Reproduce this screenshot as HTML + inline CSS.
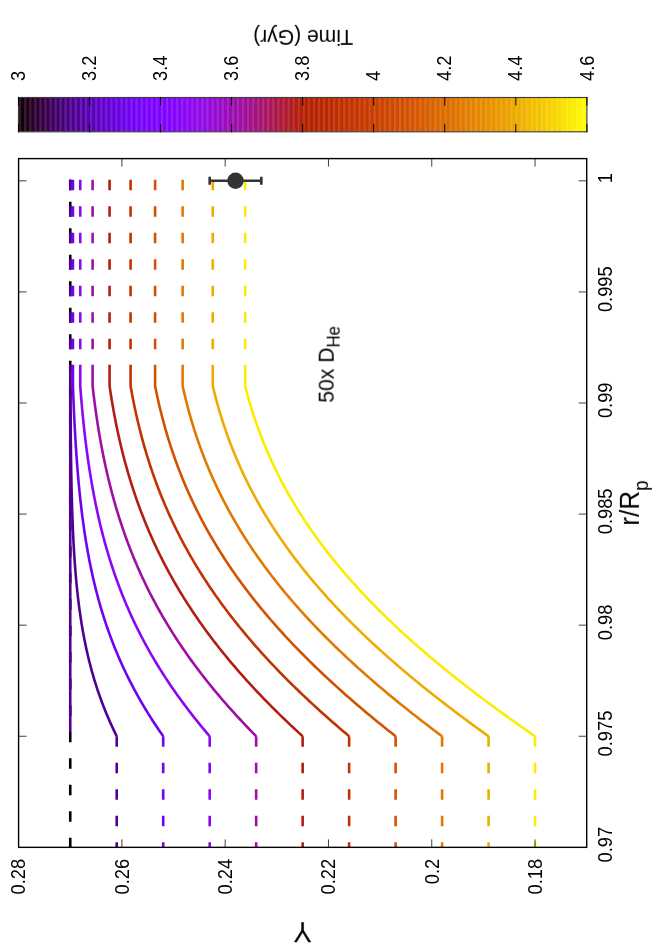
<!DOCTYPE html>
<html><head><meta charset="utf-8"><title>plot</title><style>html,body{margin:0;padding:0;background:#fff}svg{display:block}</style></head><body>
<svg width="664" height="949" viewBox="0 0 664 949" font-family="Liberation Sans, sans-serif" fill="#000">
<rect width="664" height="949" fill="#fff"/>
<clipPath id="cb"><rect x="18.5" y="97.5" width="568.40" height="34.30"/></clipPath>
<g clip-path="url(#cb)">
<rect x="18.50" y="97.5" width="5.67" height="34.30" fill="#110007"/>
<rect x="23.57" y="97.5" width="5.67" height="34.30" fill="#1e0015"/>
<rect x="28.65" y="97.5" width="5.67" height="34.30" fill="#260024"/>
<rect x="33.73" y="97.5" width="5.67" height="34.30" fill="#2d0032"/>
<rect x="38.80" y="97.5" width="5.67" height="34.30" fill="#330040"/>
<rect x="43.88" y="97.5" width="5.67" height="34.30" fill="#39004d"/>
<rect x="48.95" y="97.5" width="5.67" height="34.30" fill="#3d005b"/>
<rect x="54.02" y="97.5" width="5.67" height="34.30" fill="#420068"/>
<rect x="59.10" y="97.5" width="5.67" height="34.30" fill="#460075"/>
<rect x="64.18" y="97.5" width="5.67" height="34.30" fill="#4a0082"/>
<rect x="69.25" y="97.5" width="5.67" height="34.30" fill="#4e008e"/>
<rect x="74.33" y="97.5" width="5.67" height="34.30" fill="#520099"/>
<rect x="79.40" y="97.5" width="5.67" height="34.30" fill="#5500a5"/>
<rect x="84.48" y="97.5" width="5.67" height="34.30" fill="#5900af"/>
<rect x="89.55" y="97.5" width="5.67" height="34.30" fill="#5c01b9"/>
<rect x="94.62" y="97.5" width="5.67" height="34.30" fill="#5f01c3"/>
<rect x="99.70" y="97.5" width="5.67" height="34.30" fill="#6201cc"/>
<rect x="104.78" y="97.5" width="5.67" height="34.30" fill="#6501d4"/>
<rect x="109.85" y="97.5" width="5.67" height="34.30" fill="#6801dc"/>
<rect x="114.92" y="97.5" width="5.67" height="34.30" fill="#6a01e3"/>
<rect x="120.00" y="97.5" width="5.67" height="34.30" fill="#6d02e9"/>
<rect x="125.08" y="97.5" width="5.67" height="34.30" fill="#7002ee"/>
<rect x="130.15" y="97.5" width="5.67" height="34.30" fill="#7202f3"/>
<rect x="135.23" y="97.5" width="5.67" height="34.30" fill="#7502f7"/>
<rect x="140.30" y="97.5" width="5.67" height="34.30" fill="#7703fa"/>
<rect x="145.38" y="97.5" width="5.67" height="34.30" fill="#7a03fc"/>
<rect x="150.45" y="97.5" width="5.67" height="34.30" fill="#7c03fe"/>
<rect x="155.53" y="97.5" width="5.67" height="34.30" fill="#7e04ff"/>
<rect x="160.60" y="97.5" width="5.67" height="34.30" fill="#8104ff"/>
<rect x="165.68" y="97.5" width="5.67" height="34.30" fill="#8305fe"/>
<rect x="170.75" y="97.5" width="5.67" height="34.30" fill="#8505fc"/>
<rect x="175.83" y="97.5" width="5.67" height="34.30" fill="#8706fa"/>
<rect x="180.90" y="97.5" width="5.67" height="34.30" fill="#8906f7"/>
<rect x="185.97" y="97.5" width="5.67" height="34.30" fill="#8b07f3"/>
<rect x="191.05" y="97.5" width="5.67" height="34.30" fill="#8e07ee"/>
<rect x="196.12" y="97.5" width="5.67" height="34.30" fill="#9008e9"/>
<rect x="201.20" y="97.5" width="5.67" height="34.30" fill="#9209e3"/>
<rect x="206.28" y="97.5" width="5.67" height="34.30" fill="#940adc"/>
<rect x="211.35" y="97.5" width="5.67" height="34.30" fill="#960ad4"/>
<rect x="216.43" y="97.5" width="5.67" height="34.30" fill="#970bcc"/>
<rect x="221.50" y="97.5" width="5.67" height="34.30" fill="#990cc3"/>
<rect x="226.58" y="97.5" width="5.67" height="34.30" fill="#9b0db9"/>
<rect x="231.65" y="97.5" width="5.67" height="34.30" fill="#9d0eaf"/>
<rect x="236.72" y="97.5" width="5.67" height="34.30" fill="#9f0fa5"/>
<rect x="241.80" y="97.5" width="5.67" height="34.30" fill="#a11099"/>
<rect x="246.88" y="97.5" width="5.67" height="34.30" fill="#a3118e"/>
<rect x="251.95" y="97.5" width="5.67" height="34.30" fill="#a41282"/>
<rect x="257.02" y="97.5" width="5.67" height="34.30" fill="#a61375"/>
<rect x="262.10" y="97.5" width="5.67" height="34.30" fill="#a81568"/>
<rect x="267.18" y="97.5" width="5.67" height="34.30" fill="#aa165b"/>
<rect x="272.25" y="97.5" width="5.67" height="34.30" fill="#ab174d"/>
<rect x="277.32" y="97.5" width="5.67" height="34.30" fill="#ad1940"/>
<rect x="282.40" y="97.5" width="5.67" height="34.30" fill="#af1a32"/>
<rect x="287.48" y="97.5" width="5.67" height="34.30" fill="#b01c24"/>
<rect x="292.55" y="97.5" width="5.67" height="34.30" fill="#b21d15"/>
<rect x="297.62" y="97.5" width="5.67" height="34.30" fill="#b41f07"/>
<rect x="302.70" y="97.5" width="5.67" height="34.30" fill="#b52100"/>
<rect x="307.78" y="97.5" width="5.67" height="34.30" fill="#b72300"/>
<rect x="312.85" y="97.5" width="5.67" height="34.30" fill="#b82400"/>
<rect x="317.93" y="97.5" width="5.67" height="34.30" fill="#ba2600"/>
<rect x="323.00" y="97.5" width="5.67" height="34.30" fill="#bb2800"/>
<rect x="328.07" y="97.5" width="5.67" height="34.30" fill="#bd2a00"/>
<rect x="333.15" y="97.5" width="5.67" height="34.30" fill="#be2c00"/>
<rect x="338.23" y="97.5" width="5.67" height="34.30" fill="#c02e00"/>
<rect x="343.30" y="97.5" width="5.67" height="34.30" fill="#c23100"/>
<rect x="348.38" y="97.5" width="5.67" height="34.30" fill="#c33300"/>
<rect x="353.45" y="97.5" width="5.67" height="34.30" fill="#c43500"/>
<rect x="358.53" y="97.5" width="5.67" height="34.30" fill="#c63800"/>
<rect x="363.60" y="97.5" width="5.67" height="34.30" fill="#c73a00"/>
<rect x="368.68" y="97.5" width="5.67" height="34.30" fill="#c93d00"/>
<rect x="373.75" y="97.5" width="5.67" height="34.30" fill="#ca4000"/>
<rect x="378.82" y="97.5" width="5.67" height="34.30" fill="#cc4200"/>
<rect x="383.90" y="97.5" width="5.67" height="34.30" fill="#cd4500"/>
<rect x="388.98" y="97.5" width="5.67" height="34.30" fill="#cf4800"/>
<rect x="394.05" y="97.5" width="5.67" height="34.30" fill="#d04b00"/>
<rect x="399.12" y="97.5" width="5.67" height="34.30" fill="#d14e00"/>
<rect x="404.20" y="97.5" width="5.67" height="34.30" fill="#d35100"/>
<rect x="409.28" y="97.5" width="5.67" height="34.30" fill="#d45400"/>
<rect x="414.35" y="97.5" width="5.67" height="34.30" fill="#d55800"/>
<rect x="419.43" y="97.5" width="5.67" height="34.30" fill="#d75b00"/>
<rect x="424.50" y="97.5" width="5.67" height="34.30" fill="#d85f00"/>
<rect x="429.57" y="97.5" width="5.67" height="34.30" fill="#da6200"/>
<rect x="434.65" y="97.5" width="5.67" height="34.30" fill="#db6600"/>
<rect x="439.73" y="97.5" width="5.67" height="34.30" fill="#dc6a00"/>
<rect x="444.80" y="97.5" width="5.67" height="34.30" fill="#dd6e00"/>
<rect x="449.88" y="97.5" width="5.67" height="34.30" fill="#df7100"/>
<rect x="454.95" y="97.5" width="5.67" height="34.30" fill="#e07500"/>
<rect x="460.03" y="97.5" width="5.67" height="34.30" fill="#e17a00"/>
<rect x="465.10" y="97.5" width="5.67" height="34.30" fill="#e37e00"/>
<rect x="470.18" y="97.5" width="5.67" height="34.30" fill="#e48200"/>
<rect x="475.25" y="97.5" width="5.67" height="34.30" fill="#e58700"/>
<rect x="480.32" y="97.5" width="5.67" height="34.30" fill="#e68b00"/>
<rect x="485.40" y="97.5" width="5.67" height="34.30" fill="#e89000"/>
<rect x="490.48" y="97.5" width="5.67" height="34.30" fill="#e99400"/>
<rect x="495.55" y="97.5" width="5.67" height="34.30" fill="#ea9900"/>
<rect x="500.62" y="97.5" width="5.67" height="34.30" fill="#eb9e00"/>
<rect x="505.70" y="97.5" width="5.67" height="34.30" fill="#eda300"/>
<rect x="510.78" y="97.5" width="5.67" height="34.30" fill="#eea800"/>
<rect x="515.85" y="97.5" width="5.67" height="34.30" fill="#efad00"/>
<rect x="520.92" y="97.5" width="5.67" height="34.30" fill="#f0b300"/>
<rect x="526.00" y="97.5" width="5.67" height="34.30" fill="#f2b800"/>
<rect x="531.08" y="97.5" width="5.67" height="34.30" fill="#f3be00"/>
<rect x="536.15" y="97.5" width="5.67" height="34.30" fill="#f4c300"/>
<rect x="541.23" y="97.5" width="5.67" height="34.30" fill="#f5c900"/>
<rect x="546.30" y="97.5" width="5.67" height="34.30" fill="#f6cf00"/>
<rect x="551.38" y="97.5" width="5.67" height="34.30" fill="#f7d500"/>
<rect x="556.45" y="97.5" width="5.67" height="34.30" fill="#f9db00"/>
<rect x="561.52" y="97.5" width="5.67" height="34.30" fill="#fae100"/>
<rect x="566.60" y="97.5" width="5.67" height="34.30" fill="#fbe800"/>
<rect x="571.68" y="97.5" width="5.67" height="34.30" fill="#fcee00"/>
<rect x="576.75" y="97.5" width="5.67" height="34.30" fill="#fdf500"/>
<rect x="581.83" y="97.5" width="5.67" height="34.30" fill="#fefc00"/>
</g>
<rect x="19.20" y="97.5" width="2" height="34.30" fill="#fff" opacity="0.12"/>
<rect x="24.26" y="97.5" width="2" height="34.30" fill="#fff" opacity="0.12"/>
<rect x="29.33" y="97.5" width="2" height="34.30" fill="#fff" opacity="0.12"/>
<rect x="34.39" y="97.5" width="2" height="34.30" fill="#fff" opacity="0.12"/>
<rect x="39.46" y="97.5" width="2" height="34.30" fill="#fff" opacity="0.12"/>
<rect x="44.52" y="97.5" width="2" height="34.30" fill="#fff" opacity="0.12"/>
<rect x="49.58" y="97.5" width="2" height="34.30" fill="#fff" opacity="0.12"/>
<rect x="54.65" y="97.5" width="2" height="34.30" fill="#fff" opacity="0.12"/>
<rect x="59.71" y="97.5" width="2" height="34.30" fill="#fff" opacity="0.12"/>
<rect x="64.78" y="97.5" width="2" height="34.30" fill="#fff" opacity="0.12"/>
<rect x="69.84" y="97.5" width="2" height="34.30" fill="#fff" opacity="0.12"/>
<rect x="74.90" y="97.5" width="2" height="34.30" fill="#fff" opacity="0.12"/>
<rect x="79.97" y="97.5" width="2" height="34.30" fill="#fff" opacity="0.12"/>
<rect x="85.03" y="97.5" width="2" height="34.30" fill="#fff" opacity="0.12"/>
<rect x="90.10" y="97.5" width="2" height="34.30" fill="#fff" opacity="0.12"/>
<rect x="95.16" y="97.5" width="2" height="34.30" fill="#fff" opacity="0.12"/>
<rect x="100.22" y="97.5" width="2" height="34.30" fill="#fff" opacity="0.12"/>
<rect x="105.29" y="97.5" width="2" height="34.30" fill="#fff" opacity="0.12"/>
<rect x="110.35" y="97.5" width="2" height="34.30" fill="#fff" opacity="0.12"/>
<rect x="115.42" y="97.5" width="2" height="34.30" fill="#fff" opacity="0.12"/>
<rect x="120.48" y="97.5" width="2" height="34.30" fill="#fff" opacity="0.12"/>
<rect x="125.54" y="97.5" width="2" height="34.30" fill="#fff" opacity="0.12"/>
<rect x="130.61" y="97.5" width="2" height="34.30" fill="#fff" opacity="0.12"/>
<rect x="135.67" y="97.5" width="2" height="34.30" fill="#fff" opacity="0.12"/>
<rect x="140.74" y="97.5" width="2" height="34.30" fill="#fff" opacity="0.12"/>
<rect x="145.80" y="97.5" width="2" height="34.30" fill="#fff" opacity="0.12"/>
<rect x="150.86" y="97.5" width="2" height="34.30" fill="#fff" opacity="0.12"/>
<rect x="155.93" y="97.5" width="2" height="34.30" fill="#fff" opacity="0.12"/>
<rect x="160.99" y="97.5" width="2" height="34.30" fill="#fff" opacity="0.12"/>
<rect x="166.06" y="97.5" width="2" height="34.30" fill="#fff" opacity="0.12"/>
<rect x="171.12" y="97.5" width="2" height="34.30" fill="#fff" opacity="0.12"/>
<rect x="176.18" y="97.5" width="2" height="34.30" fill="#fff" opacity="0.12"/>
<rect x="181.25" y="97.5" width="2" height="34.30" fill="#fff" opacity="0.12"/>
<rect x="186.31" y="97.5" width="2" height="34.30" fill="#fff" opacity="0.12"/>
<rect x="191.38" y="97.5" width="2" height="34.30" fill="#fff" opacity="0.12"/>
<rect x="196.44" y="97.5" width="2" height="34.30" fill="#fff" opacity="0.12"/>
<rect x="201.50" y="97.5" width="2" height="34.30" fill="#fff" opacity="0.12"/>
<rect x="206.57" y="97.5" width="2" height="34.30" fill="#fff" opacity="0.12"/>
<rect x="211.63" y="97.5" width="2" height="34.30" fill="#fff" opacity="0.12"/>
<rect x="216.70" y="97.5" width="2" height="34.30" fill="#fff" opacity="0.12"/>
<rect x="221.76" y="97.5" width="2" height="34.30" fill="#fff" opacity="0.12"/>
<rect x="226.82" y="97.5" width="2" height="34.30" fill="#fff" opacity="0.12"/>
<rect x="231.89" y="97.5" width="2" height="34.30" fill="#fff" opacity="0.12"/>
<rect x="236.95" y="97.5" width="2" height="34.30" fill="#fff" opacity="0.12"/>
<rect x="242.02" y="97.5" width="2" height="34.30" fill="#fff" opacity="0.12"/>
<rect x="247.08" y="97.5" width="2" height="34.30" fill="#fff" opacity="0.12"/>
<rect x="252.14" y="97.5" width="2" height="34.30" fill="#fff" opacity="0.12"/>
<rect x="257.21" y="97.5" width="2" height="34.30" fill="#fff" opacity="0.12"/>
<rect x="262.27" y="97.5" width="2" height="34.30" fill="#fff" opacity="0.12"/>
<rect x="267.34" y="97.5" width="2" height="34.30" fill="#fff" opacity="0.12"/>
<rect x="272.40" y="97.5" width="2" height="34.30" fill="#fff" opacity="0.12"/>
<rect x="277.46" y="97.5" width="2" height="34.30" fill="#fff" opacity="0.12"/>
<rect x="282.53" y="97.5" width="2" height="34.30" fill="#fff" opacity="0.12"/>
<rect x="287.59" y="97.5" width="2" height="34.30" fill="#fff" opacity="0.12"/>
<rect x="292.66" y="97.5" width="2" height="34.30" fill="#fff" opacity="0.12"/>
<rect x="297.72" y="97.5" width="2" height="34.30" fill="#fff" opacity="0.12"/>
<rect x="302.78" y="97.5" width="2" height="34.30" fill="#fff" opacity="0.12"/>
<rect x="307.85" y="97.5" width="2" height="34.30" fill="#fff" opacity="0.12"/>
<rect x="312.91" y="97.5" width="2" height="34.30" fill="#fff" opacity="0.12"/>
<rect x="317.98" y="97.5" width="2" height="34.30" fill="#fff" opacity="0.12"/>
<rect x="323.04" y="97.5" width="2" height="34.30" fill="#fff" opacity="0.12"/>
<rect x="328.10" y="97.5" width="2" height="34.30" fill="#fff" opacity="0.12"/>
<rect x="333.17" y="97.5" width="2" height="34.30" fill="#fff" opacity="0.12"/>
<rect x="338.23" y="97.5" width="2" height="34.30" fill="#fff" opacity="0.12"/>
<rect x="343.30" y="97.5" width="2" height="34.30" fill="#fff" opacity="0.12"/>
<rect x="348.36" y="97.5" width="2" height="34.30" fill="#fff" opacity="0.12"/>
<rect x="353.42" y="97.5" width="2" height="34.30" fill="#fff" opacity="0.12"/>
<rect x="358.49" y="97.5" width="2" height="34.30" fill="#fff" opacity="0.12"/>
<rect x="363.55" y="97.5" width="2" height="34.30" fill="#fff" opacity="0.12"/>
<rect x="368.62" y="97.5" width="2" height="34.30" fill="#fff" opacity="0.12"/>
<rect x="373.68" y="97.5" width="2" height="34.30" fill="#fff" opacity="0.12"/>
<rect x="378.74" y="97.5" width="2" height="34.30" fill="#fff" opacity="0.12"/>
<rect x="383.81" y="97.5" width="2" height="34.30" fill="#fff" opacity="0.12"/>
<rect x="388.87" y="97.5" width="2" height="34.30" fill="#fff" opacity="0.12"/>
<rect x="393.94" y="97.5" width="2" height="34.30" fill="#fff" opacity="0.12"/>
<rect x="399.00" y="97.5" width="2" height="34.30" fill="#fff" opacity="0.12"/>
<rect x="404.06" y="97.5" width="2" height="34.30" fill="#fff" opacity="0.12"/>
<rect x="409.13" y="97.5" width="2" height="34.30" fill="#fff" opacity="0.12"/>
<rect x="414.19" y="97.5" width="2" height="34.30" fill="#fff" opacity="0.12"/>
<rect x="419.26" y="97.5" width="2" height="34.30" fill="#fff" opacity="0.12"/>
<rect x="424.32" y="97.5" width="2" height="34.30" fill="#fff" opacity="0.12"/>
<rect x="429.38" y="97.5" width="2" height="34.30" fill="#fff" opacity="0.12"/>
<rect x="434.45" y="97.5" width="2" height="34.30" fill="#fff" opacity="0.12"/>
<rect x="439.51" y="97.5" width="2" height="34.30" fill="#fff" opacity="0.12"/>
<rect x="444.58" y="97.5" width="2" height="34.30" fill="#fff" opacity="0.12"/>
<rect x="449.64" y="97.5" width="2" height="34.30" fill="#fff" opacity="0.12"/>
<rect x="454.70" y="97.5" width="2" height="34.30" fill="#fff" opacity="0.12"/>
<rect x="459.77" y="97.5" width="2" height="34.30" fill="#fff" opacity="0.12"/>
<rect x="464.83" y="97.5" width="2" height="34.30" fill="#fff" opacity="0.12"/>
<rect x="469.90" y="97.5" width="2" height="34.30" fill="#fff" opacity="0.12"/>
<rect x="474.96" y="97.5" width="2" height="34.30" fill="#fff" opacity="0.12"/>
<rect x="480.02" y="97.5" width="2" height="34.30" fill="#fff" opacity="0.12"/>
<rect x="485.09" y="97.5" width="2" height="34.30" fill="#fff" opacity="0.12"/>
<rect x="490.15" y="97.5" width="2" height="34.30" fill="#fff" opacity="0.12"/>
<rect x="495.22" y="97.5" width="2" height="34.30" fill="#fff" opacity="0.12"/>
<rect x="500.28" y="97.5" width="2" height="34.30" fill="#fff" opacity="0.12"/>
<rect x="505.34" y="97.5" width="2" height="34.30" fill="#fff" opacity="0.12"/>
<rect x="510.41" y="97.5" width="2" height="34.30" fill="#fff" opacity="0.12"/>
<rect x="515.47" y="97.5" width="2" height="34.30" fill="#fff" opacity="0.12"/>
<rect x="520.54" y="97.5" width="2" height="34.30" fill="#fff" opacity="0.12"/>
<rect x="525.60" y="97.5" width="2" height="34.30" fill="#fff" opacity="0.12"/>
<rect x="530.66" y="97.5" width="2" height="34.30" fill="#fff" opacity="0.12"/>
<rect x="535.73" y="97.5" width="2" height="34.30" fill="#fff" opacity="0.12"/>
<rect x="540.79" y="97.5" width="2" height="34.30" fill="#fff" opacity="0.12"/>
<rect x="545.86" y="97.5" width="2" height="34.30" fill="#fff" opacity="0.12"/>
<rect x="550.92" y="97.5" width="2" height="34.30" fill="#fff" opacity="0.12"/>
<rect x="555.98" y="97.5" width="2" height="34.30" fill="#fff" opacity="0.12"/>
<rect x="561.05" y="97.5" width="2" height="34.30" fill="#fff" opacity="0.12"/>
<rect x="566.11" y="97.5" width="2" height="34.30" fill="#fff" opacity="0.12"/>
<rect x="571.18" y="97.5" width="2" height="34.30" fill="#fff" opacity="0.12"/>
<rect x="576.24" y="97.5" width="2" height="34.30" fill="#fff" opacity="0.12"/>
<rect x="581.30" y="97.5" width="2" height="34.30" fill="#fff" opacity="0.12"/>
<rect x="18.5" y="97.5" width="568.40" height="34.30" fill="none" stroke="#3d3d3d" stroke-width="1.15"/>
<path d="M18.50 97.0v8.5M18.50 132.3v-8.5" stroke="#000" stroke-width="1"/>
<path d="M89.55 97.0v8.5M89.55 132.3v-8.5" stroke="#000" stroke-width="1"/>
<path d="M160.60 97.0v8.5M160.60 132.3v-8.5" stroke="#000" stroke-width="1"/>
<path d="M231.65 97.0v8.5M231.65 132.3v-8.5" stroke="#000" stroke-width="1"/>
<path d="M302.70 97.0v8.5M302.70 132.3v-8.5" stroke="#000" stroke-width="1"/>
<path d="M373.75 97.0v8.5M373.75 132.3v-8.5" stroke="#000" stroke-width="1"/>
<path d="M444.80 97.0v8.5M444.80 132.3v-8.5" stroke="#000" stroke-width="1"/>
<path d="M515.85 97.0v8.5M515.85 132.3v-8.5" stroke="#000" stroke-width="1"/>
<path d="M586.90 97.0v8.5M586.90 132.3v-8.5" stroke="#000" stroke-width="1"/>
<clipPath id="c"><rect x="18.6" y="158.6" width="568.1" height="688.75"/></clipPath>
<g clip-path="url(#c)" fill="none" stroke-width="2.6" stroke-linejoin="round">
<path d="M70.25 847.35V179.8" stroke="#000" stroke-dasharray="10.5 16.0" stroke-dashoffset="0.9"/>
<path d="M70.25 732.26V364.8" stroke="#500093"/>
<path d="M70.25 179.8V364.8" stroke="#500093" stroke-dasharray="10.5 16.0"/>
<path d="M116.73 736.26V852.35" stroke="#500093" stroke-dasharray="10.5 16.0"/>
<path d="M116.73 736.26 L115.29 733.34 L113.89 730.42 L112.52 727.50 L111.18 724.59 L109.87 721.67 L108.60 718.75 L107.35 715.83 L106.13 712.91 L104.95 709.99 L103.79 707.07 L102.67 704.15 L101.57 701.24 L100.50 698.32 L99.46 695.40 L98.45 692.48 L97.46 689.56 L96.51 686.64 L95.57 683.72 L94.67 680.80 L93.79 677.88 L92.94 674.97 L92.11 672.05 L91.30 669.13 L90.52 666.21 L89.77 663.29 L89.03 660.37 L88.32 657.45 L87.64 654.53 L86.97 651.61 L86.32 648.70 L85.70 645.78 L85.10 642.86 L84.51 639.94 L83.95 637.02 L83.40 634.10 L82.87 631.18 L82.37 628.26 L81.87 625.35 L81.40 622.43 L80.94 619.51 L80.50 616.59 L80.08 613.67 L79.67 610.75 L79.27 607.83 L78.89 604.91 L78.52 601.99 L78.17 599.08 L77.83 596.16 L77.51 593.24 L77.19 590.32 L76.89 587.40 L76.60 584.48 L76.32 581.56 L76.06 578.64 L75.80 575.72 L75.55 572.81 L75.32 569.89 L75.09 566.97 L74.87 564.05 L74.66 561.13 L74.46 558.21 L74.27 555.29 L74.09 552.37 L73.91 549.46 L73.74 546.54 L73.58 543.62 L73.43 540.70 L73.28 537.78 L73.14 534.86 L73.00 531.94 L72.88 529.02 L72.75 526.10 L72.63 523.19 L72.52 520.27 L72.41 517.35 L72.31 514.43 L72.21 511.51 L72.12 508.59 L72.03 505.67 L71.94 502.75 L71.86 499.83 L71.78 496.92 L71.71 494.00 L71.64 491.08 L71.57 488.16 L71.50 485.24 L71.44 482.32 L71.38 479.40 L71.33 476.48 L71.27 473.57 L71.22 470.65 L71.17 467.73 L71.13 464.81 L71.08 461.89 L71.04 458.97 L71.00 456.05 L70.96 453.13 L70.92 450.21 L70.89 447.30 L70.85 444.38 L70.82 441.46 L70.79 438.54 L70.76 435.62 L70.73 432.70 L70.70 429.78 L70.68 426.86 L70.65 423.94 L70.63 421.03 L70.61 418.11 L70.58 415.19 L70.56 412.27 L70.54 409.35 L70.52 406.43 L70.50 403.51 L70.48 400.59 L70.47 397.68 L70.45 394.76 L70.43 391.84 L70.41 388.92 L70.40 386.00 V364.8" stroke="#500093"/>
<path d="M70.40 179.8V364.8" stroke="#500093" stroke-dasharray="10.5 16.0"/>
<path d="M163.21 736.26V852.35" stroke="#7102f0" stroke-dasharray="10.5 16.0"/>
<path d="M163.21 736.26 L161.17 733.34 L159.17 730.42 L157.20 727.50 L155.26 724.59 L153.35 721.67 L151.47 718.75 L149.62 715.83 L147.80 712.91 L146.01 709.99 L144.26 707.07 L142.53 704.15 L140.83 701.24 L139.16 698.32 L137.52 695.40 L135.91 692.48 L134.33 689.56 L132.78 686.64 L131.26 683.72 L129.76 680.80 L128.30 677.88 L126.86 674.97 L125.45 672.05 L124.07 669.13 L122.71 666.21 L121.38 663.29 L120.08 660.37 L118.80 657.45 L117.56 654.53 L116.33 651.61 L115.14 648.70 L113.96 645.78 L112.82 642.86 L111.69 639.94 L110.60 637.02 L109.52 634.10 L108.47 631.18 L107.45 628.26 L106.44 625.35 L105.46 622.43 L104.50 619.51 L103.57 616.59 L102.65 613.67 L101.76 610.75 L100.89 607.83 L100.04 604.91 L99.21 601.99 L98.40 599.08 L97.61 596.16 L96.83 593.24 L96.08 590.32 L95.35 587.40 L94.63 584.48 L93.93 581.56 L93.25 578.64 L92.59 575.72 L91.95 572.81 L91.32 569.89 L90.71 566.97 L90.11 564.05 L89.53 561.13 L88.96 558.21 L88.41 555.29 L87.87 552.37 L87.35 549.46 L86.85 546.54 L86.35 543.62 L85.87 540.70 L85.40 537.78 L84.95 534.86 L84.51 531.94 L84.08 529.02 L83.66 526.10 L83.25 523.19 L82.86 520.27 L82.47 517.35 L82.10 514.43 L81.73 511.51 L81.38 508.59 L81.04 505.67 L80.71 502.75 L80.38 499.83 L80.07 496.92 L79.76 494.00 L79.47 491.08 L79.18 488.16 L78.90 485.24 L78.63 482.32 L78.36 479.40 L78.11 476.48 L77.86 473.57 L77.62 470.65 L77.38 467.73 L77.15 464.81 L76.93 461.89 L76.72 458.97 L76.51 456.05 L76.30 453.13 L76.11 450.21 L75.92 447.30 L75.73 444.38 L75.55 441.46 L75.37 438.54 L75.20 435.62 L75.04 432.70 L74.88 429.78 L74.72 426.86 L74.57 423.94 L74.42 421.03 L74.28 418.11 L74.14 415.19 L74.00 412.27 L73.87 409.35 L73.74 406.43 L73.62 403.51 L73.50 400.59 L73.38 397.68 L73.27 394.76 L73.16 391.84 L73.05 388.92 L72.94 386.00 V364.8" stroke="#7102f0"/>
<path d="M72.94 179.8V364.8" stroke="#7102f0" stroke-dasharray="10.5 16.0"/>
<path d="M209.69 736.26V852.35" stroke="#8a06f6" stroke-dasharray="10.5 16.0"/>
<path d="M209.69 736.26 L207.20 733.34 L204.74 730.42 L202.31 727.50 L199.92 724.59 L197.55 721.67 L195.21 718.75 L192.90 715.83 L190.62 712.91 L188.38 709.99 L186.16 707.07 L183.97 704.15 L181.81 701.24 L179.68 698.32 L177.58 695.40 L175.51 692.48 L173.47 689.56 L171.46 686.64 L169.48 683.72 L167.53 680.80 L165.61 677.88 L163.71 674.97 L161.85 672.05 L160.01 669.13 L158.20 666.21 L156.42 663.29 L154.67 660.37 L152.95 657.45 L151.26 654.53 L149.59 651.61 L147.95 648.70 L146.34 645.78 L144.75 642.86 L143.19 639.94 L141.66 637.02 L140.15 634.10 L138.68 631.18 L137.22 628.26 L135.79 625.35 L134.39 622.43 L133.01 619.51 L131.66 616.59 L130.34 613.67 L129.03 610.75 L127.75 607.83 L126.50 604.91 L125.27 601.99 L124.06 599.08 L122.87 596.16 L121.71 593.24 L120.57 590.32 L119.46 587.40 L118.36 584.48 L117.29 581.56 L116.23 578.64 L115.20 575.72 L114.19 572.81 L113.20 569.89 L112.23 566.97 L111.28 564.05 L110.35 561.13 L109.44 558.21 L108.55 555.29 L107.67 552.37 L106.82 549.46 L105.98 546.54 L105.16 543.62 L104.36 540.70 L103.58 537.78 L102.81 534.86 L102.06 531.94 L101.32 529.02 L100.60 526.10 L99.90 523.19 L99.22 520.27 L98.54 517.35 L97.89 514.43 L97.25 511.51 L96.62 508.59 L96.01 505.67 L95.41 502.75 L94.82 499.83 L94.25 496.92 L93.69 494.00 L93.14 491.08 L92.61 488.16 L92.09 485.24 L91.58 482.32 L91.09 479.40 L90.60 476.48 L90.13 473.57 L89.67 470.65 L89.21 467.73 L88.77 464.81 L88.34 461.89 L87.92 458.97 L87.52 456.05 L87.12 453.13 L86.73 450.21 L86.35 447.30 L85.98 444.38 L85.61 441.46 L85.26 438.54 L84.92 435.62 L84.58 432.70 L84.26 429.78 L83.94 426.86 L83.63 423.94 L83.33 421.03 L83.03 418.11 L82.74 415.19 L82.46 412.27 L82.19 409.35 L81.92 406.43 L81.67 403.51 L81.41 400.59 L81.17 397.68 L80.93 394.76 L80.70 391.84 L80.47 388.92 L80.25 386.00 V364.8" stroke="#8a06f6"/>
<path d="M80.25 179.8V364.8" stroke="#8a06f6" stroke-dasharray="10.5 16.0"/>
<path d="M256.17 736.26V852.35" stroke="#9f0fa3" stroke-dasharray="10.5 16.0"/>
<path d="M256.17 736.26 L253.30 733.34 L250.47 730.42 L247.66 727.50 L244.89 724.59 L242.14 721.67 L239.42 718.75 L236.73 715.83 L234.07 712.91 L231.44 709.99 L228.84 707.07 L226.27 704.15 L223.73 701.24 L221.22 698.32 L218.74 695.40 L216.28 692.48 L213.86 689.56 L211.47 686.64 L209.11 683.72 L206.77 680.80 L204.47 677.88 L202.19 674.97 L199.95 672.05 L197.73 669.13 L195.55 666.21 L193.39 663.29 L191.26 660.37 L189.16 657.45 L187.09 654.53 L185.05 651.61 L183.04 648.70 L181.06 645.78 L179.10 642.86 L177.17 639.94 L175.27 637.02 L173.40 634.10 L171.56 631.18 L169.74 628.26 L167.95 625.35 L166.19 622.43 L164.46 619.51 L162.75 616.59 L161.07 613.67 L159.42 610.75 L157.79 607.83 L156.19 604.91 L154.61 601.99 L153.06 599.08 L151.53 596.16 L150.03 593.24 L148.56 590.32 L147.11 587.40 L145.68 584.48 L144.28 581.56 L142.90 578.64 L141.55 575.72 L140.22 572.81 L138.91 569.89 L137.63 566.97 L136.37 564.05 L135.13 561.13 L133.91 558.21 L132.72 555.29 L131.54 552.37 L130.39 549.46 L129.26 546.54 L128.15 543.62 L127.07 540.70 L126.00 537.78 L124.95 534.86 L123.92 531.94 L122.92 529.02 L121.93 526.10 L120.96 523.19 L120.01 520.27 L119.08 517.35 L118.16 514.43 L117.27 511.51 L116.39 508.59 L115.53 505.67 L114.69 502.75 L113.86 499.83 L113.05 496.92 L112.26 494.00 L111.49 491.08 L110.73 488.16 L109.99 485.24 L109.26 482.32 L108.55 479.40 L107.85 476.48 L107.17 473.57 L106.50 470.65 L105.85 467.73 L105.21 464.81 L104.59 461.89 L103.98 458.97 L103.38 456.05 L102.80 453.13 L102.23 450.21 L101.67 447.30 L101.12 444.38 L100.59 441.46 L100.07 438.54 L99.57 435.62 L99.07 432.70 L98.59 429.78 L98.11 426.86 L97.65 423.94 L97.20 421.03 L96.77 418.11 L96.34 415.19 L95.92 412.27 L95.51 409.35 L95.12 406.43 L94.73 403.51 L94.35 400.59 L93.99 397.68 L93.63 394.76 L93.28 391.84 L92.94 388.92 L92.61 386.00 V364.8" stroke="#9f0fa3"/>
<path d="M92.61 179.8V364.8" stroke="#9f0fa3" stroke-dasharray="10.5 16.0"/>
<path d="M302.65 736.26V852.35" stroke="#b21e14" stroke-dasharray="10.5 16.0"/>
<path d="M302.65 736.26 L299.46 733.34 L296.31 730.42 L293.18 727.50 L290.08 724.59 L287.01 721.67 L283.96 718.75 L280.95 715.83 L277.97 712.91 L275.01 709.99 L272.09 707.07 L269.19 704.15 L266.32 701.24 L263.48 698.32 L260.68 695.40 L257.90 692.48 L255.15 689.56 L252.43 686.64 L249.74 683.72 L247.08 680.80 L244.45 677.88 L241.85 674.97 L239.29 672.05 L236.75 669.13 L234.24 666.21 L231.76 663.29 L229.31 660.37 L226.89 657.45 L224.49 654.53 L222.13 651.61 L219.80 648.70 L217.50 645.78 L215.23 642.86 L212.98 639.94 L210.77 637.02 L208.58 634.10 L206.43 631.18 L204.30 628.26 L202.20 625.35 L200.13 622.43 L198.09 619.51 L196.08 616.59 L194.09 613.67 L192.14 610.75 L190.21 607.83 L188.31 604.91 L186.43 601.99 L184.59 599.08 L182.77 596.16 L180.98 593.24 L179.21 590.32 L177.47 587.40 L175.76 584.48 L174.08 581.56 L172.42 578.64 L170.79 575.72 L169.18 572.81 L167.60 569.89 L166.04 566.97 L164.51 564.05 L163.00 561.13 L161.52 558.21 L160.07 555.29 L158.63 552.37 L157.22 549.46 L155.84 546.54 L154.48 543.62 L153.14 540.70 L151.83 537.78 L150.53 534.86 L149.26 531.94 L148.02 529.02 L146.79 526.10 L145.59 523.19 L144.41 520.27 L143.25 517.35 L142.11 514.43 L140.99 511.51 L139.90 508.59 L138.82 505.67 L137.77 502.75 L136.73 499.83 L135.72 496.92 L134.72 494.00 L133.74 491.08 L132.79 488.16 L131.85 485.24 L130.93 482.32 L130.03 479.40 L129.14 476.48 L128.28 473.57 L127.43 470.65 L126.60 467.73 L125.79 464.81 L124.99 461.89 L124.21 458.97 L123.45 456.05 L122.70 453.13 L121.97 450.21 L121.26 447.30 L120.56 444.38 L119.88 441.46 L119.21 438.54 L118.56 435.62 L117.92 432.70 L117.30 429.78 L116.69 426.86 L116.10 423.94 L115.52 421.03 L114.95 418.11 L114.40 415.19 L113.86 412.27 L113.34 409.35 L112.82 406.43 L112.32 403.51 L111.84 400.59 L111.36 397.68 L110.90 394.76 L110.45 391.84 L110.01 388.92 L109.58 386.00 V364.8" stroke="#b21e14"/>
<path d="M109.58 179.8V364.8" stroke="#b21e14" stroke-dasharray="10.5 16.0"/>
<path d="M349.13 736.26V852.35" stroke="#c33300" stroke-dasharray="10.5 16.0"/>
<path d="M349.13 736.26 L345.67 733.34 L342.24 730.42 L338.83 727.50 L335.45 724.59 L332.10 721.67 L328.78 718.75 L325.49 715.83 L322.23 712.91 L318.99 709.99 L315.79 707.07 L312.61 704.15 L309.46 701.24 L306.34 698.32 L303.26 695.40 L300.20 692.48 L297.17 689.56 L294.17 686.64 L291.20 683.72 L288.26 680.80 L285.35 677.88 L282.48 674.97 L279.63 672.05 L276.81 669.13 L274.02 666.21 L271.26 663.29 L268.54 660.37 L265.84 657.45 L263.17 654.53 L260.53 651.61 L257.93 648.70 L255.35 645.78 L252.81 642.86 L250.29 639.94 L247.81 637.02 L245.35 634.10 L242.92 631.18 L240.53 628.26 L238.16 625.35 L235.83 622.43 L233.52 619.51 L231.25 616.59 L229.00 613.67 L226.78 610.75 L224.59 607.83 L222.44 604.91 L220.31 601.99 L218.21 599.08 L216.13 596.16 L214.09 593.24 L212.08 590.32 L210.09 587.40 L208.13 584.48 L206.20 581.56 L204.30 578.64 L202.43 575.72 L200.58 572.81 L198.76 569.89 L196.97 566.97 L195.21 564.05 L193.47 561.13 L191.76 558.21 L190.08 555.29 L188.42 552.37 L186.79 549.46 L185.18 546.54 L183.60 543.62 L182.05 540.70 L180.52 537.78 L179.02 534.86 L177.54 531.94 L176.08 529.02 L174.66 526.10 L173.25 523.19 L171.87 520.27 L170.51 517.35 L169.18 514.43 L167.87 511.51 L166.59 508.59 L165.32 505.67 L164.08 502.75 L162.86 499.83 L161.67 496.92 L160.50 494.00 L159.34 491.08 L158.21 488.16 L157.11 485.24 L156.02 482.32 L154.95 479.40 L153.91 476.48 L152.88 473.57 L151.88 470.65 L150.89 467.73 L149.93 464.81 L148.99 461.89 L148.06 458.97 L147.15 456.05 L146.27 453.13 L145.40 450.21 L144.55 447.30 L143.72 444.38 L142.90 441.46 L142.11 438.54 L141.33 435.62 L140.57 432.70 L139.83 429.78 L139.10 426.86 L138.39 423.94 L137.70 421.03 L137.02 418.11 L136.36 415.19 L135.72 412.27 L135.09 409.35 L134.47 406.43 L133.87 403.51 L133.29 400.59 L132.72 397.68 L132.17 394.76 L131.63 391.84 L131.10 388.92 L130.59 386.00 V364.8" stroke="#c33300"/>
<path d="M130.59 179.8V364.8" stroke="#c33300" stroke-dasharray="10.5 16.0"/>
<path d="M395.61 736.26V852.35" stroke="#d35100" stroke-dasharray="10.5 16.0"/>
<path d="M395.61 736.26 L391.91 733.34 L388.24 730.42 L384.60 727.50 L380.98 724.59 L377.39 721.67 L373.83 718.75 L370.30 715.83 L366.79 712.91 L363.32 709.99 L359.87 707.07 L356.46 704.15 L353.07 701.24 L349.71 698.32 L346.38 695.40 L343.08 692.48 L339.81 689.56 L336.57 686.64 L333.36 683.72 L330.18 680.80 L327.03 677.88 L323.91 674.97 L320.82 672.05 L317.76 669.13 L314.73 666.21 L311.74 663.29 L308.77 660.37 L305.83 657.45 L302.93 654.53 L300.05 651.61 L297.21 648.70 L294.40 645.78 L291.62 642.86 L288.87 639.94 L286.15 637.02 L283.46 634.10 L280.80 631.18 L278.18 628.26 L275.58 625.35 L273.02 622.43 L270.48 619.51 L267.98 616.59 L265.51 613.67 L263.07 610.75 L260.65 607.83 L258.27 604.91 L255.92 601.99 L253.60 599.08 L251.31 596.16 L249.05 593.24 L246.82 590.32 L244.62 587.40 L242.45 584.48 L240.31 581.56 L238.20 578.64 L236.12 575.72 L234.07 572.81 L232.04 569.89 L230.05 566.97 L228.08 564.05 L226.15 561.13 L224.24 558.21 L222.36 555.29 L220.51 552.37 L218.69 549.46 L216.89 546.54 L215.12 543.62 L213.38 540.70 L211.67 537.78 L209.98 534.86 L208.32 531.94 L206.69 529.02 L205.09 526.10 L203.51 523.19 L201.95 520.27 L200.43 517.35 L198.93 514.43 L197.45 511.51 L196.00 508.59 L194.58 505.67 L193.18 502.75 L191.80 499.83 L190.45 496.92 L189.12 494.00 L187.82 491.08 L186.54 488.16 L185.29 485.24 L184.06 482.32 L182.85 479.40 L181.66 476.48 L180.50 473.57 L179.36 470.65 L178.24 467.73 L177.15 464.81 L176.08 461.89 L175.02 458.97 L173.99 456.05 L172.99 453.13 L172.00 450.21 L171.03 447.30 L170.08 444.38 L169.16 441.46 L168.25 438.54 L167.36 435.62 L166.50 432.70 L165.65 429.78 L164.82 426.86 L164.01 423.94 L163.22 421.03 L162.45 418.11 L161.69 415.19 L160.96 412.27 L160.24 409.35 L159.54 406.43 L158.85 403.51 L158.19 400.59 L157.54 397.68 L156.90 394.76 L156.29 391.84 L155.69 388.92 L155.10 386.00 V364.8" stroke="#d35100"/>
<path d="M155.10 179.8V364.8" stroke="#d35100" stroke-dasharray="10.5 16.0"/>
<path d="M442.09 736.26V852.35" stroke="#e17900" stroke-dasharray="10.5 16.0"/>
<path d="M442.09 736.26 L438.19 733.34 L434.31 730.42 L430.46 727.50 L426.64 724.59 L422.85 721.67 L419.08 718.75 L415.34 715.83 L411.63 712.91 L407.94 709.99 L404.29 707.07 L400.66 704.15 L397.07 701.24 L393.50 698.32 L389.96 695.40 L386.45 692.48 L382.98 689.56 L379.53 686.64 L376.11 683.72 L372.72 680.80 L369.36 677.88 L366.04 674.97 L362.74 672.05 L359.47 669.13 L356.24 666.21 L353.04 663.29 L349.86 660.37 L346.72 657.45 L343.61 654.53 L340.54 651.61 L337.49 648.70 L334.47 645.78 L331.49 642.86 L328.54 639.94 L325.62 637.02 L322.73 634.10 L319.87 631.18 L317.04 628.26 L314.25 625.35 L311.49 622.43 L308.76 619.51 L306.06 616.59 L303.39 613.67 L300.76 610.75 L298.15 607.83 L295.58 604.91 L293.04 601.99 L290.53 599.08 L288.05 596.16 L285.60 593.24 L283.19 590.32 L280.80 587.40 L278.45 584.48 L276.13 581.56 L273.84 578.64 L271.57 575.72 L269.34 572.81 L267.14 569.89 L264.98 566.97 L262.84 564.05 L260.73 561.13 L258.65 558.21 L256.60 555.29 L254.58 552.37 L252.59 549.46 L250.63 546.54 L248.70 543.62 L246.80 540.70 L244.93 537.78 L243.09 534.86 L241.27 531.94 L239.49 529.02 L237.73 526.10 L236.00 523.19 L234.30 520.27 L232.62 517.35 L230.98 514.43 L229.36 511.51 L227.77 508.59 L226.20 505.67 L224.66 502.75 L223.15 499.83 L221.67 496.92 L220.21 494.00 L218.78 491.08 L217.37 488.16 L215.99 485.24 L214.63 482.32 L213.30 479.40 L212.00 476.48 L210.72 473.57 L209.46 470.65 L208.23 467.73 L207.02 464.81 L205.84 461.89 L204.67 458.97 L203.54 456.05 L202.42 453.13 L201.33 450.21 L200.26 447.30 L199.22 444.38 L198.19 441.46 L197.19 438.54 L196.21 435.62 L195.25 432.70 L194.31 429.78 L193.40 426.86 L192.50 423.94 L191.62 421.03 L190.77 418.11 L189.93 415.19 L189.12 412.27 L188.32 409.35 L187.55 406.43 L186.79 403.51 L186.05 400.59 L185.33 397.68 L184.63 394.76 L183.95 391.84 L183.28 388.92 L182.63 386.00 V364.8" stroke="#e17900"/>
<path d="M182.63 179.8V364.8" stroke="#e17900" stroke-dasharray="10.5 16.0"/>
<path d="M488.57 736.26V852.35" stroke="#efac00" stroke-dasharray="10.5 16.0"/>
<path d="M488.57 736.26 L484.49 733.34 L480.44 730.42 L476.41 727.50 L472.41 724.59 L468.44 721.67 L464.49 718.75 L460.58 715.83 L456.69 712.91 L452.82 709.99 L448.99 707.07 L445.19 704.15 L441.41 701.24 L437.66 698.32 L433.95 695.40 L430.26 692.48 L426.60 689.56 L422.97 686.64 L419.37 683.72 L415.81 680.80 L412.27 677.88 L408.76 674.97 L405.29 672.05 L401.85 669.13 L398.43 666.21 L395.05 663.29 L391.70 660.37 L388.38 657.45 L385.10 654.53 L381.84 651.61 L378.62 648.70 L375.43 645.78 L372.27 642.86 L369.14 639.94 L366.05 637.02 L362.99 634.10 L359.96 631.18 L356.96 628.26 L353.99 625.35 L351.06 622.43 L348.16 619.51 L345.29 616.59 L342.46 613.67 L339.66 610.75 L336.89 607.83 L334.15 604.91 L331.44 601.99 L328.77 599.08 L326.13 596.16 L323.52 593.24 L320.94 590.32 L318.40 587.40 L315.89 584.48 L313.41 581.56 L310.96 578.64 L308.55 575.72 L306.16 572.81 L303.81 569.89 L301.49 566.97 L299.20 564.05 L296.95 561.13 L294.72 558.21 L292.53 555.29 L290.36 552.37 L288.23 549.46 L286.13 546.54 L284.06 543.62 L282.02 540.70 L280.01 537.78 L278.03 534.86 L276.08 531.94 L274.16 529.02 L272.28 526.10 L270.42 523.19 L268.59 520.27 L266.79 517.35 L265.01 514.43 L263.27 511.51 L261.56 508.59 L259.87 505.67 L258.22 502.75 L256.59 499.83 L254.99 496.92 L253.42 494.00 L251.87 491.08 L250.35 488.16 L248.86 485.24 L247.40 482.32 L245.96 479.40 L244.56 476.48 L243.17 473.57 L241.81 470.65 L240.48 467.73 L239.18 464.81 L237.90 461.89 L236.64 458.97 L235.41 456.05 L234.21 453.13 L233.03 450.21 L231.87 447.30 L230.74 444.38 L229.63 441.46 L228.54 438.54 L227.48 435.62 L226.44 432.70 L225.43 429.78 L224.44 426.86 L223.47 423.94 L222.52 421.03 L221.59 418.11 L220.69 415.19 L219.80 412.27 L218.94 409.35 L218.10 406.43 L217.28 403.51 L216.48 400.59 L215.70 397.68 L214.94 394.76 L214.20 391.84 L213.48 388.92 L212.77 386.00 V364.8" stroke="#efac00"/>
<path d="M212.77 179.8V364.8" stroke="#efac00" stroke-dasharray="10.5 16.0"/>
<path d="M535.05 736.26V852.35" stroke="#fcec00" stroke-dasharray="10.5 16.0"/>
<path d="M535.05 736.26 L530.82 733.34 L526.62 730.42 L522.44 727.50 L518.28 724.59 L514.16 721.67 L510.06 718.75 L505.99 715.83 L501.94 712.91 L497.92 709.99 L493.94 707.07 L489.98 704.15 L486.05 701.24 L482.15 698.32 L478.27 695.40 L474.43 692.48 L470.62 689.56 L466.84 686.64 L463.08 683.72 L459.36 680.80 L455.67 677.88 L452.01 674.97 L448.38 672.05 L444.78 669.13 L441.22 666.21 L437.68 663.29 L434.18 660.37 L430.71 657.45 L427.27 654.53 L423.86 651.61 L420.49 648.70 L417.14 645.78 L413.83 642.86 L410.56 639.94 L407.31 637.02 L404.10 634.10 L400.92 631.18 L397.78 628.26 L394.67 625.35 L391.59 622.43 L388.54 619.51 L385.53 616.59 L382.55 613.67 L379.60 610.75 L376.69 607.83 L373.81 604.91 L370.96 601.99 L368.14 599.08 L365.36 596.16 L362.62 593.24 L359.90 590.32 L357.22 587.40 L354.57 584.48 L351.96 581.56 L349.38 578.64 L346.83 575.72 L344.31 572.81 L341.83 569.89 L339.38 566.97 L336.96 564.05 L334.58 561.13 L332.23 558.21 L329.91 555.29 L327.62 552.37 L325.36 549.46 L323.14 546.54 L320.95 543.62 L318.79 540.70 L316.66 537.78 L314.57 534.86 L312.50 531.94 L310.47 529.02 L308.47 526.10 L306.49 523.19 L304.55 520.27 L302.64 517.35 L300.77 514.43 L298.92 511.51 L297.10 508.59 L295.31 505.67 L293.55 502.75 L291.82 499.83 L290.12 496.92 L288.45 494.00 L286.81 491.08 L285.20 488.16 L283.61 485.24 L282.06 482.32 L280.53 479.40 L279.03 476.48 L277.56 473.57 L276.11 470.65 L274.70 467.73 L273.31 464.81 L271.94 461.89 L270.61 458.97 L269.30 456.05 L268.01 453.13 L266.76 450.21 L265.52 447.30 L264.32 444.38 L263.14 441.46 L261.98 438.54 L260.85 435.62 L259.74 432.70 L258.66 429.78 L257.60 426.86 L256.57 423.94 L255.56 421.03 L254.57 418.11 L253.60 415.19 L252.66 412.27 L251.74 409.35 L250.84 406.43 L249.97 403.51 L249.12 400.59 L248.28 397.68 L247.47 394.76 L246.68 391.84 L245.91 388.92 L245.16 386.00 V364.8" stroke="#fcec00"/>
<path d="M245.16 179.8V364.8" stroke="#fcec00" stroke-dasharray="10.5 16.0"/>
</g>
<path d="M209.69 180.7H261.33M209.69 176.7v8M261.33 176.7v8" stroke="#333" stroke-width="2.6" fill="none"/>
<circle cx="235.51" cy="180.7" r="8.2" fill="#333"/>
<path d="M18.6 736.26h8M586.7 736.26h-8M18.6 625.17h8M586.7 625.17h-8M18.6 514.08h8M586.7 514.08h-8M18.6 403.00h8M586.7 403.00h-8M18.6 291.91h8M586.7 291.91h-8M18.6 180.82h8M586.7 180.82h-8M121.89 847.35v-8M121.89 158.6v8M225.18 847.35v-8M225.18 158.6v8M328.47 847.35v-8M328.47 158.6v8M431.76 847.35v-8M431.76 158.6v8M535.05 847.35v-8M535.05 158.6v8" stroke="#000" stroke-width="0.75" fill="none"/>
<rect x="18.6" y="158.6" width="568.10" height="688.75" fill="none" stroke="#000" stroke-width="1.4"/>
<filter id="f" x="0" y="0" width="664" height="949" filterUnits="userSpaceOnUse"><feOffset dx="0" dy="0"/></filter>
<g filter="url(#f)">
<text transform="translate(25.10,81.00) rotate(-90) scale(0.925,1)" font-size="19.8" text-anchor="start">3</text>
<text transform="translate(96.15,81.00) rotate(-90) scale(0.925,1)" font-size="19.8" text-anchor="start">3.2</text>
<text transform="translate(167.20,81.00) rotate(-90) scale(0.925,1)" font-size="19.8" text-anchor="start">3.4</text>
<text transform="translate(238.25,81.00) rotate(-90) scale(0.925,1)" font-size="19.8" text-anchor="start">3.6</text>
<text transform="translate(309.30,81.00) rotate(-90) scale(0.925,1)" font-size="19.8" text-anchor="start">3.8</text>
<text transform="translate(380.35,81.00) rotate(-90) scale(0.925,1)" font-size="19.8" text-anchor="start">4</text>
<text transform="translate(451.40,81.00) rotate(-90) scale(0.925,1)" font-size="19.8" text-anchor="start">4.2</text>
<text transform="translate(522.45,81.00) rotate(-90) scale(0.925,1)" font-size="19.8" text-anchor="start">4.4</text>
<text transform="translate(593.50,81.00) rotate(-90) scale(0.925,1)" font-size="19.8" text-anchor="start">4.6</text>
<text transform="translate(303.10,29.90) rotate(180) scale(0.96,1)" font-size="22.0" text-anchor="middle">Time (Gyr)</text>
<text transform="translate(611.80,844.65) rotate(-90) scale(0.925,1)" font-size="19.8" text-anchor="middle">0.97</text>
<text transform="translate(611.80,733.56) rotate(-90) scale(0.925,1)" font-size="19.8" text-anchor="middle">0.975</text>
<text transform="translate(611.80,622.47) rotate(-90) scale(0.925,1)" font-size="19.8" text-anchor="middle">0.98</text>
<text transform="translate(611.80,511.38) rotate(-90) scale(0.925,1)" font-size="19.8" text-anchor="middle">0.985</text>
<text transform="translate(611.80,400.30) rotate(-90) scale(0.925,1)" font-size="19.8" text-anchor="middle">0.99</text>
<text transform="translate(611.80,289.21) rotate(-90) scale(0.925,1)" font-size="19.8" text-anchor="middle">0.995</text>
<text transform="translate(611.80,178.12) rotate(-90) scale(0.925,1)" font-size="19.8" text-anchor="middle">1</text>
<text transform="translate(25.40,858.80) rotate(-90) scale(0.925,1)" font-size="19.8" text-anchor="end">0.28</text>
<text transform="translate(128.69,858.80) rotate(-90) scale(0.925,1)" font-size="19.8" text-anchor="end">0.26</text>
<text transform="translate(231.98,858.80) rotate(-90) scale(0.925,1)" font-size="19.8" text-anchor="end">0.24</text>
<text transform="translate(335.27,858.80) rotate(-90) scale(0.925,1)" font-size="19.8" text-anchor="end">0.22</text>
<text transform="translate(438.56,858.80) rotate(-90) scale(0.925,1)" font-size="19.8" text-anchor="end">0.2</text>
<text transform="translate(541.85,858.80) rotate(-90) scale(0.925,1)" font-size="19.8" text-anchor="end">0.18</text>
<text transform="translate(638.9,503) rotate(-90) scale(0.915,1)" font-size="28.4" text-anchor="middle">r/R<tspan font-size="20.45" dy="8.8">p</tspan></text>
<text transform="translate(302.60,922.20) rotate(180) scale(0.95,1)" font-size="29.2" text-anchor="middle">Y</text>
<text transform="translate(333.7,402.7) rotate(-90) scale(0.96,1)" font-size="22.0" text-anchor="start">50x D<tspan font-size="17.60" dy="5.8">He</tspan></text>
</g>
</svg>
</body></html>
